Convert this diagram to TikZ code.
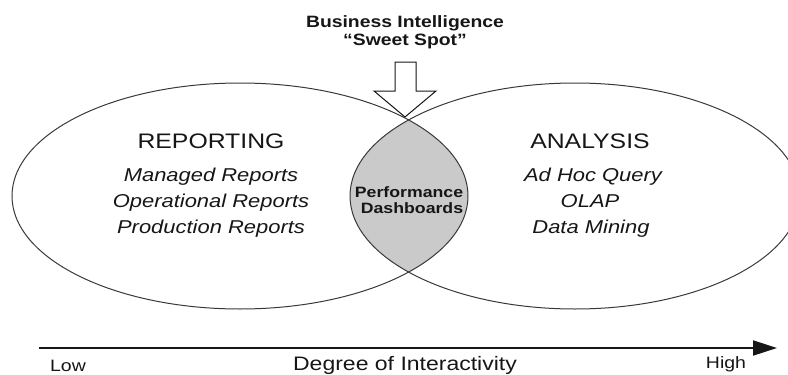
\documentclass[tikz,border=0pt]{standalone}
\usepackage{fontspec}
\setmainfont{Liberation Sans}
\usetikzlibrary{arrows.meta}
\newcommand{\hstretch}[1]{\scalebox{1.18}[1]{#1}}
\definecolor{inkc}{HTML}{161616}
\definecolor{lensgray}{HTML}{CACACA}
\tikzset{
  venn/.style={draw=inkc!85, line width=1pt},
  lbl/.style={inner sep=0pt, anchor=base, text=inkc},
  head/.style={lbl, font=\fontsize{21}{25}\selectfont},
  item/.style={lbl, font=\fontsize{18.6}{22}\selectfont\itshape},
  bold/.style={lbl, font=\fontsize{16.4}{20}\selectfont\bfseries},
  lens/.style={lbl, font=\fontsize{15}{18}\selectfont\bfseries},
  axlbl/.style={lbl, font=\fontsize{16.5}{20}\selectfont},
  bigarrow/.style={draw=inkc, fill=white, line width=1pt, line join=miter},
  axis/.style={draw=inkc, line width=2pt, -{Triangle[length=24pt,width=15pt]}}
}
\begin{document}
\begin{tikzpicture}[x=1pt,y=-1pt]
\useasboundingbox (0,0) rectangle (788,375);
\clip (0,0) rectangle (788,375);
% lens fill
\begin{scope}
  \clip (240,196) ellipse [x radius=228pt, y radius=113pt];
  \fill[lensgray] (575,196) ellipse [x radius=225pt, y radius=113pt];
\end{scope}
\draw[venn] (240,196) ellipse [x radius=228pt, y radius=113pt];
\draw[venn] (575,196) ellipse [x radius=225pt, y radius=113pt];
% sweet spot arrow
\draw[bigarrow] (395,62) -- (416,62) -- (416,91) -- (436,91) -- (405,117) -- (374,91) -- (395,91) -- cycle;
\node[bold] (bi) at (405,27) {\hstretch{Business Intelligence}};
\node[bold] (ss) at (405,45) {\hstretch{``Sweet Spot''}};
% left
\node[head] (rep) at (211,148) {\hstretch{REPORTING}};
\node[item] (mr) at (211,181) {\hstretch{Managed Reports}};
\node[item] (or) at (211,207) {\hstretch{Operational Reports}};
\node[item] (pr) at (211,233) {\hstretch{Production Reports}};
% right
\node[head] (ana) at (590,148) {\hstretch{ANALYSIS}};
\node[item] (ahq) at (593,181) {\hstretch{Ad Hoc Query}};
\node[item] (olap) at (590,207) {\hstretch{OLAP}};
\node[item] (dm) at (591,233) {\hstretch{Data Mining}};
% lens
\node[lens] (perf) at (409,197) {\hstretch{Performance}};
\node[lens] (dash) at (412,213) {\hstretch{Dashboards}};
% axis
\coordinate (axL) at (39,348);
\coordinate (axR) at (777,348);
\draw[axis] (axL) -- (axR);
\node[axlbl] (low) at (68,371) {\hstretch{Low}};
\node[axlbl] (high) at (726,368) {\hstretch{High}};
\node[lbl, font=\fontsize{19.5}{23}\selectfont] (deg) at (405,370) {\hstretch{Degree of Interactivity}};
\end{tikzpicture}
\end{document}
